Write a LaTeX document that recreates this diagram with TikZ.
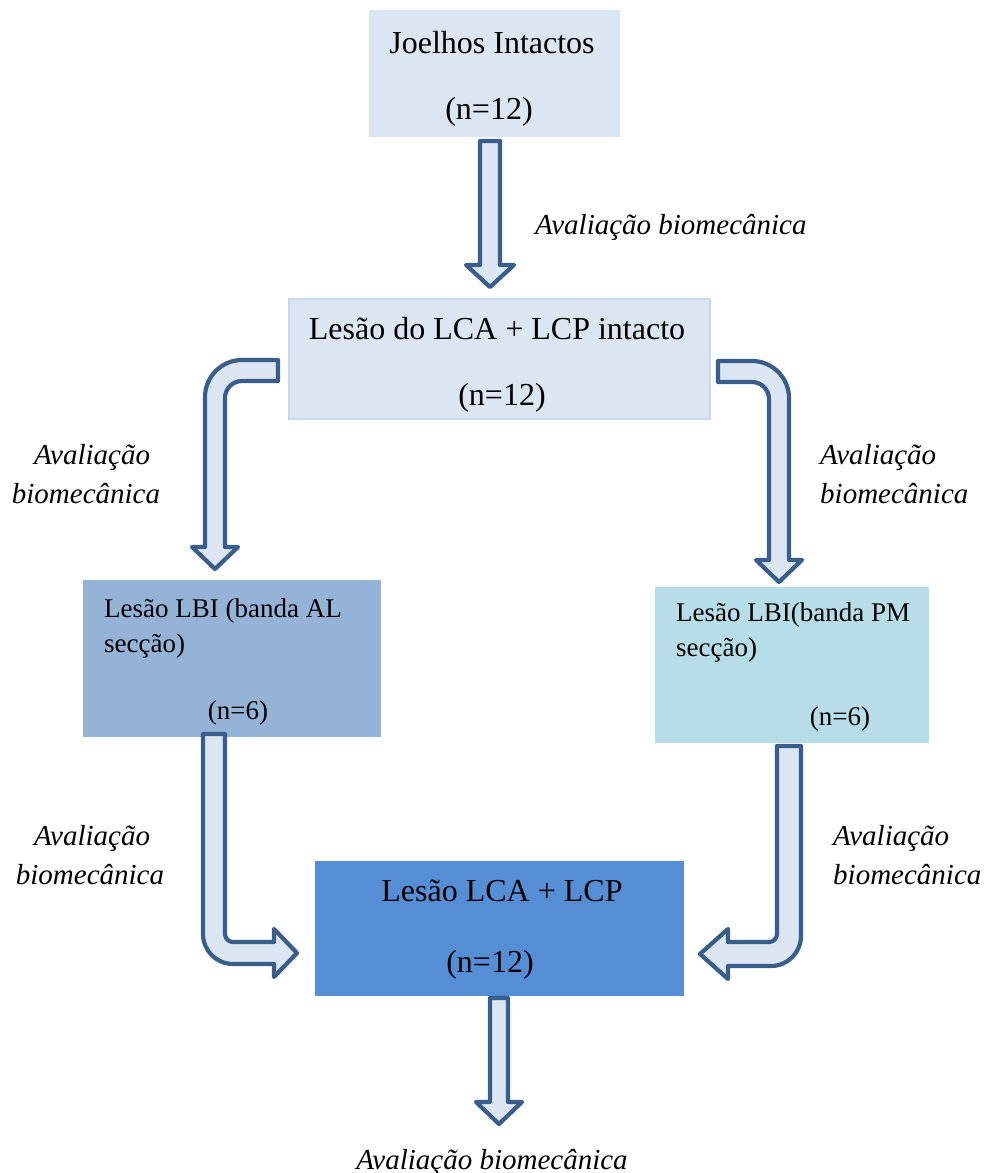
\documentclass[tikz,border=0pt]{standalone}
\usepackage{fontspec}
\setmainfont{Liberation Serif}
\definecolor{pale}{HTML}{DCE6F2}
\definecolor{paleedge}{HTML}{C6D9F1}
\definecolor{midblue}{HTML}{95B3D7}
\definecolor{aqua}{HTML}{B7DEE8}
\definecolor{strong}{HTML}{558ED5}
\definecolor{arrowedge}{HTML}{3A5E8C}
\tikzset{
  box/.style={rectangle, draw=none, anchor=north west, inner sep=0pt},
  big/.style={font=\fontsize{32}{38}\selectfont, anchor=base, inner sep=0pt},
  small/.style={font=\fontsize{27}{32}\selectfont, anchor=base west, inner sep=0pt},
  smallc/.style={font=\fontsize{27}{32}\selectfont, anchor=base, inner sep=0pt},
  lab/.style={font=\fontsize{29}{38}\selectfont\itshape, anchor=base west, inner sep=0pt},
  labc/.style={font=\fontsize{29}{38}\selectfont\itshape, anchor=base, inner sep=0pt},
  blockarrow/.style={fill=pale, draw=arrowedge, line width=4.2pt, line join=round}
}
\begin{document}
\begin{tikzpicture}[x=1pt,y=-1pt]
\useasboundingbox (0,0) rectangle (987,1173);
% boxes
\node[box, fill=pale, minimum width=251pt, minimum height=127pt] (b1) at (369,10) {};
\node[box, fill=pale, draw=paleedge, line width=2pt, minimum width=421pt, minimum height=120pt] (b2) at (288,298) {};
\node[box, fill=midblue, minimum width=298pt, minimum height=157pt] (b3) at (83,580) {};
\node[box, fill=aqua, minimum width=274pt, minimum height=156pt] (b4) at (655,587) {};
\node[box, fill=strong, minimum width=369pt, minimum height=135pt] (b5) at (315,861) {};
% box texts
\node[big] (t1a) at (492,53) {Joelhos Intactos};
\node[big] (t1b) at (489,119) {(n=12)};
\node[big] (t2a) at (497,339) {Lesão do LCA + LCP intacto};
\node[big] (t2b) at (502,405) {(n=12)};
\node[small] (t3a) at (104,617) {Lesão LBI (banda AL};
\node[small] (t3b) at (104,652) {secção)};
\node[smallc] (t3c) at (238,719) {(n=6)};
\node[small] (t4a) at (676,621) {Lesão LBI(banda PM};
\node[small] (t4b) at (676,656) {secção)};
\node[smallc] (t4c) at (840,725) {(n=6)};
\node[big] (t5a) at (502,901) {Lesão LCA + LCP};
\node[big] (t5b) at (490,972) {(n=12)};
% labels
\node[lab] (l1) at (535,234) {Avaliação biomecânica};
\node[labc] (l2a) at (92,464) {Avaliação};
\node[labc] (l2b) at (86,503) {biomecânica};
\node[lab] (l3a) at (820,464) {Avaliação};
\node[lab] (l3b) at (820,503) {biomecânica};
\node[labc] (l4a) at (92,845) {Avaliação};
\node[labc] (l4b) at (90,884) {biomecânica};
\node[lab] (l5a) at (833,845) {Avaliação};
\node[lab] (l5b) at (833,884) {biomecânica};
\node[labc] (l6) at (492,1169) {Avaliação biomecânica};
% block arrows
\draw[blockarrow] (480,141) -- (500,141) -- (500,265) -- (514,265) -- (490,287) -- (466,265) -- (480,265) -- cycle;
\draw[blockarrow] (278,360) -- (242,360) .. controls (221.6,360) and (205,376.6) .. (205,397) -- (205,547) -- (192,547) -- (215,569) -- (238,547) -- (225,547) -- (225,398) .. controls (225,388.6) and (232.6,381) .. (242,381) -- (278,381) -- cycle;
\draw[blockarrow] (718,361) -- (752,361) .. controls (772.4,361) and (789,377.6) .. (789,398) -- (789,560) -- (802,560) -- (779,582) -- (756,560) -- (769,560) -- (769,399) .. controls (769,389.6) and (761.4,382) .. (752,382) -- (718,382) -- cycle;
\draw[blockarrow] (203,734) -- (225,734) -- (225,934) .. controls (225,938.4) and (228.6,942) .. (233,942) -- (274,942) -- (274,929) -- (297,953) -- (274,977) -- (274,964) -- (233,964) .. controls (216.4,964) and (203,950.6) .. (203,934) -- cycle;
\draw[blockarrow] (777,746) -- (801,746) -- (801,936) .. controls (801,952.6) and (787.6,966) .. (771,966) -- (728,966) -- (728,979) -- (700,954) -- (728,929) -- (728,942) -- (769,942) .. controls (773.4,942) and (777,938.4) .. (777,934) -- cycle;
\draw[blockarrow] (490,998) -- (508,998) -- (508,1102) -- (522,1102) -- (499,1124) -- (476,1102) -- (490,1102) -- cycle;
\end{tikzpicture}
\end{document}
